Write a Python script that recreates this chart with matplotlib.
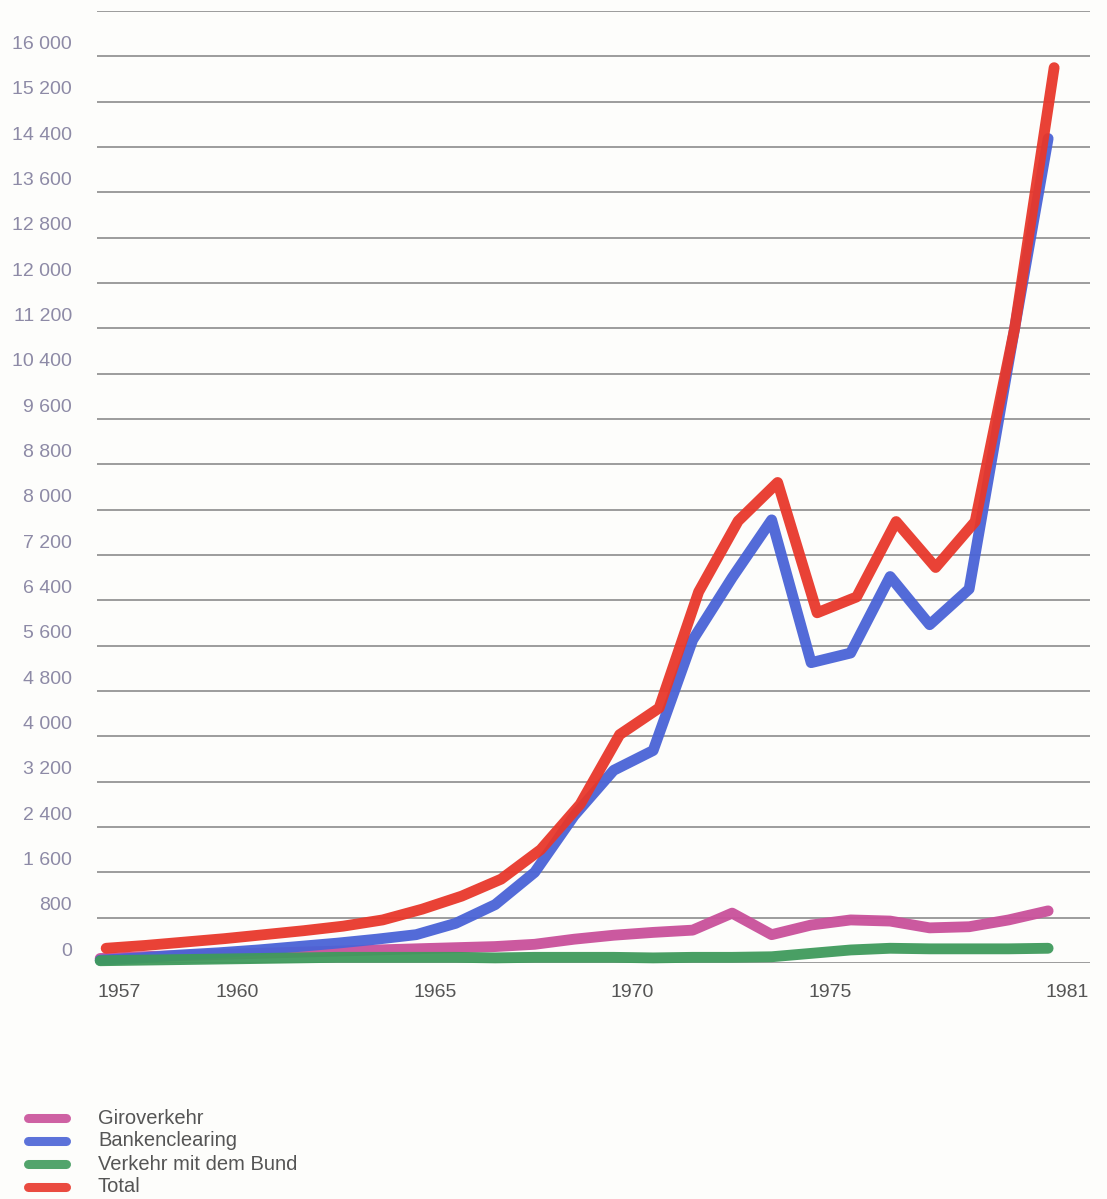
import matplotlib
matplotlib.use("Agg")
import matplotlib.pyplot as plt
from matplotlib.transforms import ScaledTranslation

# Jahre und Umsätze (Mio. Fr.)
years = list(range(1957, 1982))

giroverkehr = [80, 110, 130, 150, 170, 190, 210, 230, 250, 270, 290, 330, 420,
               490, 540, 580, 880, 500, 670, 760, 740, 620, 640, 760, 920]
bankenclearing = [50, 90, 140, 180, 230, 290, 350, 420, 500, 700, 1030, 1600, 2600,
                  3400, 3750, 5700, 6800, 7820, 5300, 5470, 6820, 5970, 6600, 10600, 14550]
verkehr_bund = [40, 50, 60, 70, 80, 90, 100, 100, 100, 100, 90, 100, 100,
                100, 90, 100, 100, 110, 170, 230, 260, 250, 250, 250, 260]
total = [260, 310, 370, 430, 500, 570, 650, 760, 950, 1180, 1480, 2000, 2800,
         4030, 4500, 6550, 7800, 8480, 6180, 6460, 7790, 6980, 7790, 11200, 15800]

xtick_years = [1957, 1960, 1965, 1970, 1975, 1981]
ytick_values = list(range(0, 16801, 800))

series = [
    ("Giroverkehr", giroverkehr, "#c9509a"),
    ("Bankenclearing", bankenclearing, "#4a63d6"),
    ("Verkehr mit dem Bund", verkehr_bund, "#3f9a5c"),
    ("Total", total, "#e8382b"),
]

plt.rcParams["font.family"] = ["Liberation Sans", "DejaVu Sans"]

fig = plt.figure(figsize=(11.07, 11.99), dpi=100)
fig.patch.set_facecolor("#fdfdfb")
ax = fig.add_axes([97 / 1107, (1199 - 963) / 1199, (1090 - 97) / 1107, 952 / 1199])
ax.set_facecolor("none")

# Zeichenreihenfolge: grün, rosa, blau, rot
for idx in [2, 0, 1, 3]:
    name, vals, col = series[idx]
    line, = ax.plot(years, vals, color=col, lw=7.8, solid_capstyle="round",
                    solid_joinstyle="round", clip_on=False, zorder=3 + idx, alpha=0.95)
    if name == "Total":
        # rote Druckfarbe im Original leicht nach rechts versetzt
        line.set_transform(ax.transData + ScaledTranslation(6 / 100, 0, fig.dpi_scale_trans))

ax.set_xlim(1956.92, 1982.06)
ax.set_ylim(0, 16800)

ax.set_yticks(ytick_values)
ylabels = []
for v in ytick_values:
    if v >= 16800:
        ylabels.append("")
    elif v >= 1000:
        ylabels.append(f"{v // 1000} {v % 1000:03d}")
    else:
        ylabels.append(str(v))
ax.set_yticklabels(ylabels, fontsize=14, color="#8d8aa6")
ax.tick_params(axis="y", length=0, pad=18)
for lab in ax.get_yticklabels():
    lab.set_transform(lab.get_transform() + ScaledTranslation(0, 14 / 100, fig.dpi_scale_trans))

ax.set_xticks(xtick_years)
ax.set_xticklabels([str(y) for y in xtick_years], fontsize=14, color="#555555", ha="left")
ax.tick_params(axis="x", length=0, pad=15)
for lab in ax.get_xticklabels():
    lab.set_transform(lab.get_transform() + ScaledTranslation(-3 / 100, 0, fig.dpi_scale_trans))

ax.grid(axis="y", color="#8c8c8c", lw=1.2)
ax.set_axisbelow(True)
for s in ax.spines.values():
    s.set_visible(False)

# Legende unten links
leg_y = [1118, 1141, 1164, 1187]
for (name, vals, col), yy in zip(series, leg_y):
    yf = 1 - yy / 1199
    fig.add_artist(plt.Line2D([28 / 1107, 66 / 1107], [yf, yf], color=col, lw=6.5,
                              solid_capstyle="round", alpha=0.9))
    fig.text(98 / 1107, yf, name, fontsize=14.5, color="#555555", va="center", ha="left")

fig.savefig("out.png", dpi=100, facecolor=fig.get_facecolor())
